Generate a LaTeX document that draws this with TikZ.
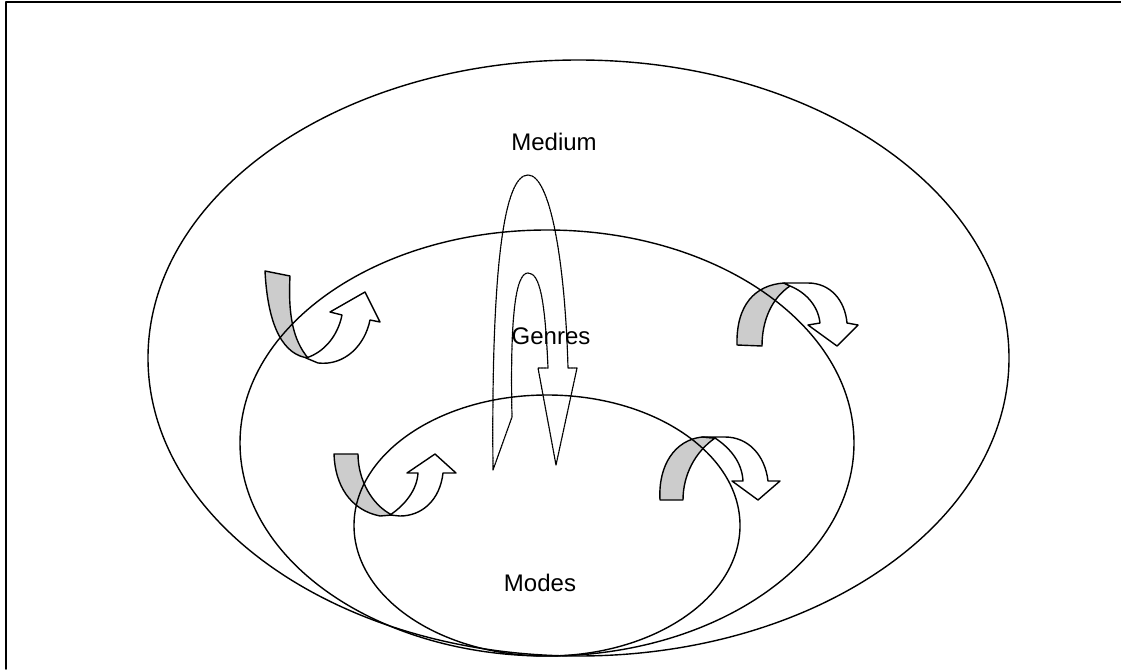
\documentclass[tikz,border=0pt]{standalone}
\usepackage{fontspec}
\setmainfont{Liberation Sans}
\definecolor{ribbongray}{HTML}{CCCCCC}

\begin{document}
\begin{tikzpicture}[
		x=1pt,
		y=-1pt,
		line cap=round,
		line join=round,
		ring/.style={line width=1.4pt},
		label/.style={font=\fontsize{24}{28}\selectfont,inner sep=0pt},
		back/.style={fill=ribbongray,draw=black,line width=1.4pt},
		front/.style={fill=white,draw=black,line width=1.4pt},
		loop/.style={draw=black,line width=1.2pt,dash pattern=on 2pt off 0.8pt}
	]
	
	% Frame
	\useasboundingbox (0,0) rectangle (1121,669);
	\draw[line width=1.8pt] (6,669) -- (6,2) -- (1121,2);
	
	% Turning arrows, top left
	\draw[back] (265,271) -- (290,276) .. controls (288,315) and (293,340) .. (308,358)
	.. controls (285,355) and (268,330) .. (265,271) -- cycle;
	\draw[front] (306,358) .. controls (325,352) and (338,335) .. (342,315) -- (330,312)
	-- (365,292) -- (380,322) -- (370,320) .. controls (365,345) and (345,366) .. (318,363) -- cycle;
	
	% Turning arrows, top right
	\draw[back] (737,345) .. controls (736,305) and (755,285) .. (784,283) -- (790,286)
	.. controls (772,298) and (762,320) .. (762,346) -- cycle;
	\draw[front] (790,286) .. controls (805,292) and (818,305) .. (820,323) -- (808,325)
	-- (837,346) -- (858,325) -- (847,323) .. controls (845,300) and (830,283) .. (808,283)
	-- (784,283) -- cycle;
	
	% Turning arrows, bottom left
	\draw[back] (334,454) -- (358,454) .. controls (358,480) and (372,505) .. (392,515)
	-- (380,516) .. controls (350,510) and (335,485) .. (334,454) -- cycle;
	\draw[front] (390,515) .. controls (405,505) and (417,490) .. (418,473) -- (407,473)
	-- (435,454) -- (456,473) -- (443,473) .. controls (440,500) and (422,516) .. (400,516) -- cycle;
	
	% Turning arrows, bottom right
	\draw[back] (660,500) .. controls (658,465) and (675,440) .. (702,437) -- (715,438)
	.. controls (695,452) and (683,475) .. (683,500) -- cycle;
	\draw[front] (715,438) .. controls (730,448) and (742,462) .. (743,481) -- (732,481)
	-- (758,500) -- (780,481) -- (768,481) .. controls (765,455) and (748,437) .. (725,437)
	-- (702,437) -- cycle;
	
	% Dotted loop between the layers
	\draw[loop] (493,470) .. controls (491,260) and (505,175) .. (528,175)
	.. controls (550,175) and (565,260) .. (568,368) -- (577,368) -- (556,465) -- (538,368)
	-- (548,368) .. controls (545,300) and (540,273) .. (528,273)
	.. controls (515,273) and (510,320) .. (512,417) -- cycle;
	
	% Nested layers
	\draw[ring] (578.5,358) ellipse [x radius=430.5, y radius=298];
	\draw[ring] (547,443) ellipse [x radius=307, y radius=213];
	\draw[ring] (547,525.5) ellipse [x radius=193, y radius=130.5];
	
	% Layer names
	\node[label] (medium) at (554,142) {Medium};
	\node[label] (genres) at (551,336) {Genres};
	\node[label] (modes)  at (540,583) {Modes};
	
\end{tikzpicture}
\end{document}
